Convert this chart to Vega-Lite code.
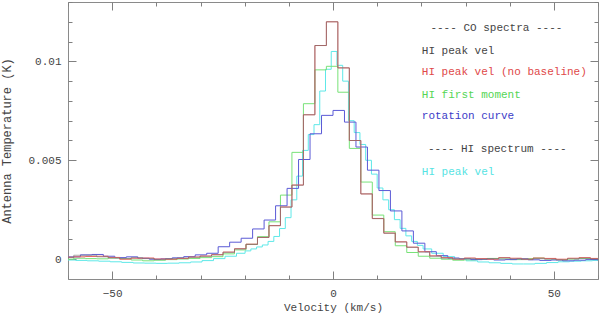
{
  "$schema": "https://vega.github.io/schema/vega-lite/v6.json",
  "width": 530,
  "height": 277,
  "autosize": {"type": "none"},
  "padding": {"left": 68, "top": 2, "right": 2, "bottom": 35},
  "background": "white",
  "config": {
    "view": {"stroke": "#8a8a8a", "strokeWidth": 1},
    "axis": {
      "domain": false,
      "grid": false,
      "zindex": 1,
      "labelFont": "Liberation Mono",
      "labelFontSize": 11,
      "labelColor": "#444444",
      "tickColor": "#808080",
      "tickWidth": 1,
      "titleFont": "Liberation Mono",
      "titleFontWeight": "normal",
      "titleColor": "#444444",
      "labelOverlap": false,
      "labelFlush": false
    }
  },
  "datasets": {
    "co": [
      {"v": -62.6, "peak": 0.00005, "nobase": 0.00008, "moment": -0.00003},
      {"v": -60.0, "peak": 0.00008, "nobase": 0.0001, "moment": 0.0},
      {"v": -57.4, "peak": 0.0002, "nobase": 0.00012, "moment": 0.00005},
      {"v": -54.8, "peak": 0.0002, "nobase": 0.00014, "moment": 0.00003},
      {"v": -52.2, "peak": 0.00012, "nobase": 0.00015, "moment": 0.00002},
      {"v": -49.6, "peak": 0.00006, "nobase": 0.00009, "moment": 0.00006},
      {"v": -47.0, "peak": 0.00004, "nobase": 0.0, "moment": 0.00002},
      {"v": -44.4, "peak": 0.00008, "nobase": 0.00005, "moment": -0.00004},
      {"v": -41.8, "peak": 0.00003, "nobase": 0.00006, "moment": -0.00008},
      {"v": -39.2, "peak": -0.00002, "nobase": 0.00001, "moment": -0.00005},
      {"v": -36.6, "peak": 0.00003, "nobase": 0.0, "moment": -0.00002},
      {"v": -34.0, "peak": 0.00006, "nobase": 0.00004, "moment": 0.00001},
      {"v": -31.4, "peak": 0.0001, "nobase": 0.00011, "moment": 0.00004},
      {"v": -28.8, "peak": 0.00015, "nobase": 0.00016, "moment": 0.00008},
      {"v": -26.2, "peak": 0.00022, "nobase": 0.00023, "moment": 0.00013},
      {"v": -23.6, "peak": 0.00035, "nobase": 0.00036, "moment": 0.00027},
      {"v": -21.0, "peak": 0.00052, "nobase": 0.00053, "moment": 0.00047},
      {"v": -18.4, "peak": 0.00075, "nobase": 0.00076, "moment": 0.00075},
      {"v": -15.8, "peak": 0.0011, "nobase": 0.0011, "moment": 0.00114},
      {"v": -13.2, "peak": 0.00169, "nobase": 0.0017, "moment": 0.00189},
      {"v": -10.6, "peak": 0.00263, "nobase": 0.00264, "moment": 0.00324},
      {"v": -8.0, "peak": 0.00374, "nobase": 0.00375, "moment": 0.0054},
      {"v": -5.4, "peak": 0.0073, "nobase": 0.0073, "moment": 0.00786},
      {"v": -2.8, "peak": 0.0108, "nobase": 0.0108, "moment": 0.00957},
      {"v": -0.2, "peak": 0.012, "nobase": 0.012, "moment": 0.00975},
      {"v": 2.4, "peak": 0.00967, "nobase": 0.00967, "moment": 0.00844},
      {"v": 5.0, "peak": 0.006, "nobase": 0.006, "moment": 0.0056},
      {"v": 7.6, "peak": 0.0033, "nobase": 0.0033, "moment": 0.0039},
      {"v": 10.2, "peak": 0.00205, "nobase": 0.00206, "moment": 0.00223},
      {"v": 12.8, "peak": 0.00131, "nobase": 0.00132, "moment": 0.00139},
      {"v": 15.4, "peak": 0.00087, "nobase": 0.00088, "moment": 0.00068},
      {"v": 18.0, "peak": 0.0006, "nobase": 0.00061, "moment": 0.00034},
      {"v": 20.6, "peak": 0.00036, "nobase": 0.00038, "moment": 0.00015},
      {"v": 23.2, "peak": 0.00015, "nobase": 0.00017, "moment": 0.00005},
      {"v": 25.8, "peak": 0.00005, "nobase": 0.00008, "moment": 0.0},
      {"v": 28.4, "peak": 0.00002, "nobase": 0.0, "moment": -0.00005},
      {"v": 31.0, "peak": 0.00004, "nobase": 0.00006, "moment": -0.00003},
      {"v": 33.6, "peak": 0.0, "nobase": 0.00003, "moment": 0.0},
      {"v": 36.2, "peak": 0.00003, "nobase": 0.0, "moment": 0.00004},
      {"v": 38.8, "peak": 0.00006, "nobase": 0.00008, "moment": 0.00001},
      {"v": 41.4, "peak": 0.00002, "nobase": 0.00005, "moment": -0.00002},
      {"v": 44.0, "peak": -0.00002, "nobase": 0.0, "moment": 0.00003},
      {"v": 46.6, "peak": 0.00003, "nobase": 0.00006, "moment": 0.00006},
      {"v": 49.2, "peak": 0.0, "nobase": 0.00004, "moment": 0.00002},
      {"v": 51.8, "peak": -0.00004, "nobase": 0.0, "moment": -0.00002},
      {"v": 54.4, "peak": 0.00002, "nobase": 0.00005, "moment": 0.00001},
      {"v": 57.0, "peak": 0.00005, "nobase": 0.00008, "moment": 0.00004},
      {"v": 59.6, "peak": 0.00001, "nobase": 0.00004, "moment": 0.00002},
      {"v": 62.2, "peak": 0.0, "nobase": 0.00002, "moment": 0.0}
    ],
    "rot": [
      {"v": -61.1, "t": 0.0001},
      {"v": -58.5, "t": 0.00012},
      {"v": -55.9, "t": 0.00022},
      {"v": -53.3, "t": 0.00024},
      {"v": -50.7, "t": 0.00015},
      {"v": -48.1, "t": 0.00008},
      {"v": -45.5, "t": 0.00012},
      {"v": -42.9, "t": 0.00005},
      {"v": -40.3, "t": 0.0},
      {"v": -37.7, "t": 0.00002},
      {"v": -35.1, "t": 0.00007},
      {"v": -32.5, "t": 0.00013},
      {"v": -29.9, "t": 0.00022},
      {"v": -27.3, "t": 0.0003},
      {"v": -24.7, "t": 0.00063},
      {"v": -22.1, "t": 0.00086},
      {"v": -19.5, "t": 0.00106},
      {"v": -16.9, "t": 0.00153},
      {"v": -14.3, "t": 0.00198},
      {"v": -11.7, "t": 0.0027},
      {"v": -9.1, "t": 0.00358},
      {"v": -6.5, "t": 0.00504},
      {"v": -3.9, "t": 0.00634},
      {"v": -1.3, "t": 0.00727},
      {"v": 1.3, "t": 0.00752},
      {"v": 3.9, "t": 0.00693},
      {"v": 6.5, "t": 0.00567},
      {"v": 9.1, "t": 0.0045},
      {"v": 11.7, "t": 0.00347},
      {"v": 14.3, "t": 0.00244},
      {"v": 16.9, "t": 0.00143},
      {"v": 19.5, "t": 0.00081},
      {"v": 22.1, "t": 0.00038},
      {"v": 24.7, "t": 0.00018},
      {"v": 27.3, "t": 0.00006},
      {"v": 29.9, "t": 0.00002},
      {"v": 32.5, "t": -0.00002},
      {"v": 35.1, "t": 0.0},
      {"v": 37.7, "t": -0.00004},
      {"v": 40.3, "t": -0.00002},
      {"v": 42.9, "t": 0.00002},
      {"v": 45.5, "t": -0.00003},
      {"v": 48.1, "t": -0.00006},
      {"v": 50.7, "t": -0.00004},
      {"v": 53.3, "t": -0.00008},
      {"v": 55.9, "t": -0.00005},
      {"v": 58.5, "t": -0.00002},
      {"v": 61.1, "t": -0.00003}
    ],
    "hi": [
      {"v": -62.15, "t": -0.00003},
      {"v": -59.55, "t": -0.00004},
      {"v": -56.95, "t": -0.00006},
      {"v": -54.35, "t": -0.00008},
      {"v": -51.75, "t": -0.0001},
      {"v": -49.15, "t": -0.00013},
      {"v": -46.55, "t": -0.00016},
      {"v": -43.95, "t": -0.00019},
      {"v": -41.35, "t": -0.0002},
      {"v": -38.75, "t": -0.00021},
      {"v": -36.15, "t": -0.0002},
      {"v": -33.55, "t": -0.00018},
      {"v": -30.95, "t": -0.00014},
      {"v": -28.35, "t": -0.00007},
      {"v": -25.75, "t": 0.00003},
      {"v": -23.15, "t": 0.00015},
      {"v": -20.55, "t": 0.0003},
      {"v": -19.25, "t": 0.00042},
      {"v": -17.95, "t": 0.00052},
      {"v": -16.65, "t": 0.00062},
      {"v": -15.35, "t": 0.00072},
      {"v": -14.05, "t": 0.0009},
      {"v": -12.75, "t": 0.00115},
      {"v": -11.45, "t": 0.00155},
      {"v": -10.15, "t": 0.0021},
      {"v": -8.85, "t": 0.003},
      {"v": -7.55, "t": 0.0042},
      {"v": -6.25, "t": 0.0055},
      {"v": -4.95, "t": 0.0063},
      {"v": -3.65, "t": 0.0068},
      {"v": -2.35, "t": 0.0085},
      {"v": -1.05, "t": 0.0096},
      {"v": 0.25, "t": 0.0105},
      {"v": 1.55, "t": 0.0098},
      {"v": 2.85, "t": 0.009},
      {"v": 4.15, "t": 0.007},
      {"v": 5.45, "t": 0.0064},
      {"v": 6.75, "t": 0.0058},
      {"v": 8.05, "t": 0.005},
      {"v": 9.35, "t": 0.0043},
      {"v": 10.65, "t": 0.0036},
      {"v": 11.95, "t": 0.003},
      {"v": 13.25, "t": 0.0025},
      {"v": 14.55, "t": 0.002},
      {"v": 15.85, "t": 0.00156},
      {"v": 17.15, "t": 0.00118},
      {"v": 18.45, "t": 0.0009},
      {"v": 19.75, "t": 0.0007},
      {"v": 21.05, "t": 0.00052},
      {"v": 23.65, "t": 0.0003},
      {"v": 26.25, "t": 0.00013},
      {"v": 28.85, "t": 0.0},
      {"v": 31.45, "t": -0.00008},
      {"v": 34.05, "t": -0.00014},
      {"v": 36.65, "t": -0.00018},
      {"v": 39.25, "t": -0.00021},
      {"v": 41.85, "t": -0.00024},
      {"v": 44.45, "t": -0.00024},
      {"v": 47.05, "t": -0.00021},
      {"v": 49.65, "t": -0.00017},
      {"v": 52.25, "t": -0.00013},
      {"v": 54.85, "t": -0.0001},
      {"v": 57.45, "t": -0.00008},
      {"v": 60.05, "t": -0.00006},
      {"v": 62.65, "t": -0.00005}
    ]
  },
  "resolve": {"axis": {"x": "independent", "y": "independent"}},
  "layer": [
    {
      "data": {"name": "hi"},
      "mark": {"type": "line", "interpolate": "step", "color": "#5ee8e8", "strokeWidth": 1, "clip": true},
      "encoding": {
        "x": {"field": "v", "type": "quantitative", "scale": {"domain": [-60, 60], "nice": false, "zero": false},
          "axis": {"orient": "bottom", "values": [-50, 0, 50], "ticks": false,
            "labelExpr": "format(datum.value, '~g')",
            "labelPadding": 8, "title": "Velocity (km/s)", "titleFontSize": 11, "titlePadding": 3}},
        "y": {"field": "t", "type": "quantitative", "scale": {"domain": [-0.001, 0.013], "nice": false, "zero": false},
          "axis": {"orient": "left", "values": [0, 0.005, 0.01], "ticks": false,
            "labelExpr": "format(datum.value, '~g')",
            "labelPadding": 7, "title": "Antenna Temperature (K)", "titleFontSize": 12, "titlePadding": 14}}
      }
    },
    {
      "data": {"name": "co"},
      "mark": {"type": "line", "interpolate": "step", "color": "#78e278", "strokeWidth": 1, "clip": true},
      "encoding": {
        "x": {"field": "v", "type": "quantitative",
          "axis": {"orient": "top", "offset": -277, "values": [-60, -50, -40, -30, -20, -10, 0, 10, 20, 30, 40, 50, 60],
            "tickSize": {"condition": {"test": "datum.value % 50 === 0", "value": 8}, "value": 4},
            "labels": false, "title": null}},
        "y": {"field": "moment", "type": "quantitative",
          "axis": {"orient": "right", "offset": -530, "values": [0, 0.001, 0.002, 0.003, 0.004, 0.005, 0.006, 0.007, 0.008, 0.009, 0.01, 0.011, 0.012, 0.013],
            "tickSize": {"condition": {"test": "abs(datum.value * 200 - round(datum.value * 200)) < 0.001", "value": 8}, "value": 4},
            "labels": false, "title": null}}
      }
    },
    {
      "data": {"name": "rot"},
      "mark": {"type": "line", "interpolate": "step", "color": "#5a5ad6", "strokeWidth": 1, "clip": true},
      "encoding": {
        "x": {"field": "v", "type": "quantitative",
          "axis": {"orient": "bottom", "offset": -277, "values": [-60, -50, -40, -30, -20, -10, 0, 10, 20, 30, 40, 50, 60],
            "tickSize": {"condition": {"test": "datum.value % 50 === 0", "value": 8}, "value": 4},
            "labels": false, "title": null}},
        "y": {"field": "t", "type": "quantitative",
          "axis": {"orient": "left", "offset": -530, "values": [0, 0.001, 0.002, 0.003, 0.004, 0.005, 0.006, 0.007, 0.008, 0.009, 0.01, 0.011, 0.012, 0.013],
            "tickSize": {"condition": {"test": "abs(datum.value * 200 - round(datum.value * 200)) < 0.001", "value": 8}, "value": 4},
            "labels": false, "title": null}}
      }
    },
    {
      "data": {"name": "co"},
      "mark": {"type": "line", "interpolate": "step", "color": "#e86060", "strokeWidth": 1, "clip": true},
      "encoding": {
        "x": {"field": "v", "type": "quantitative", "axis": null},
        "y": {"field": "nobase", "type": "quantitative", "axis": null}
      }
    },
    {
      "data": {"name": "co"},
      "mark": {"type": "line", "interpolate": "step", "color": "#707070", "strokeWidth": 1, "opacity": 0.6, "clip": true},
      "encoding": {
        "x": {"field": "v", "type": "quantitative", "axis": null},
        "y": {"field": "peak", "type": "quantitative", "axis": null}
      }
    },
    {
      "data": {"values": [{}]},
      "mark": {"type": "text", "text": "---- CO spectra ----", "font": "Liberation Mono", "fontSize": 11, "align": "center", "baseline": "middle", "color": "#444444"},
      "encoding": {"x": {"datum": 37.0, "type": "quantitative", "axis": null}, "y": {"datum": 0.01168, "type": "quantitative", "axis": null}}
    },
    {
      "data": {"values": [{}]},
      "mark": {"type": "text", "text": "HI peak vel", "font": "Liberation Mono", "fontSize": 11, "align": "left", "baseline": "middle", "color": "#444444"},
      "encoding": {"x": {"datum": 20.1, "type": "quantitative", "axis": null}, "y": {"datum": 0.01054, "type": "quantitative", "axis": null}}
    },
    {
      "data": {"values": [{}]},
      "mark": {"type": "text", "text": "HI peak vel (no baseline)", "font": "Liberation Mono", "fontSize": 11, "align": "left", "baseline": "middle", "color": "#e04848"},
      "encoding": {"x": {"datum": 20.1, "type": "quantitative", "axis": null}, "y": {"datum": 0.00945, "type": "quantitative", "axis": null}}
    },
    {
      "data": {"values": [{}]},
      "mark": {"type": "text", "text": "HI first moment", "font": "Liberation Mono", "fontSize": 11, "align": "left", "baseline": "middle", "color": "#55d655"},
      "encoding": {"x": {"datum": 20.1, "type": "quantitative", "axis": null}, "y": {"datum": 0.00831, "type": "quantitative", "axis": null}}
    },
    {
      "data": {"values": [{}]},
      "mark": {"type": "text", "text": "rotation curve", "font": "Liberation Mono", "fontSize": 11, "align": "left", "baseline": "middle", "color": "#3c3cc8"},
      "encoding": {"x": {"datum": 20.1, "type": "quantitative", "axis": null}, "y": {"datum": 0.00722, "type": "quantitative", "axis": null}}
    },
    {
      "data": {"values": [{}]},
      "mark": {"type": "text", "text": "---- HI spectrum ----", "font": "Liberation Mono", "fontSize": 11, "align": "center", "baseline": "middle", "color": "#444444"},
      "encoding": {"x": {"datum": 37.2, "type": "quantitative", "axis": null}, "y": {"datum": 0.00559, "type": "quantitative", "axis": null}}
    },
    {
      "data": {"values": [{}]},
      "mark": {"type": "text", "text": "HI peak vel", "font": "Liberation Mono", "fontSize": 11, "align": "left", "baseline": "middle", "color": "#55e3e3"},
      "encoding": {"x": {"datum": 20.1, "type": "quantitative", "axis": null}, "y": {"datum": 0.00441, "type": "quantitative", "axis": null}}
    }
  ]
}
